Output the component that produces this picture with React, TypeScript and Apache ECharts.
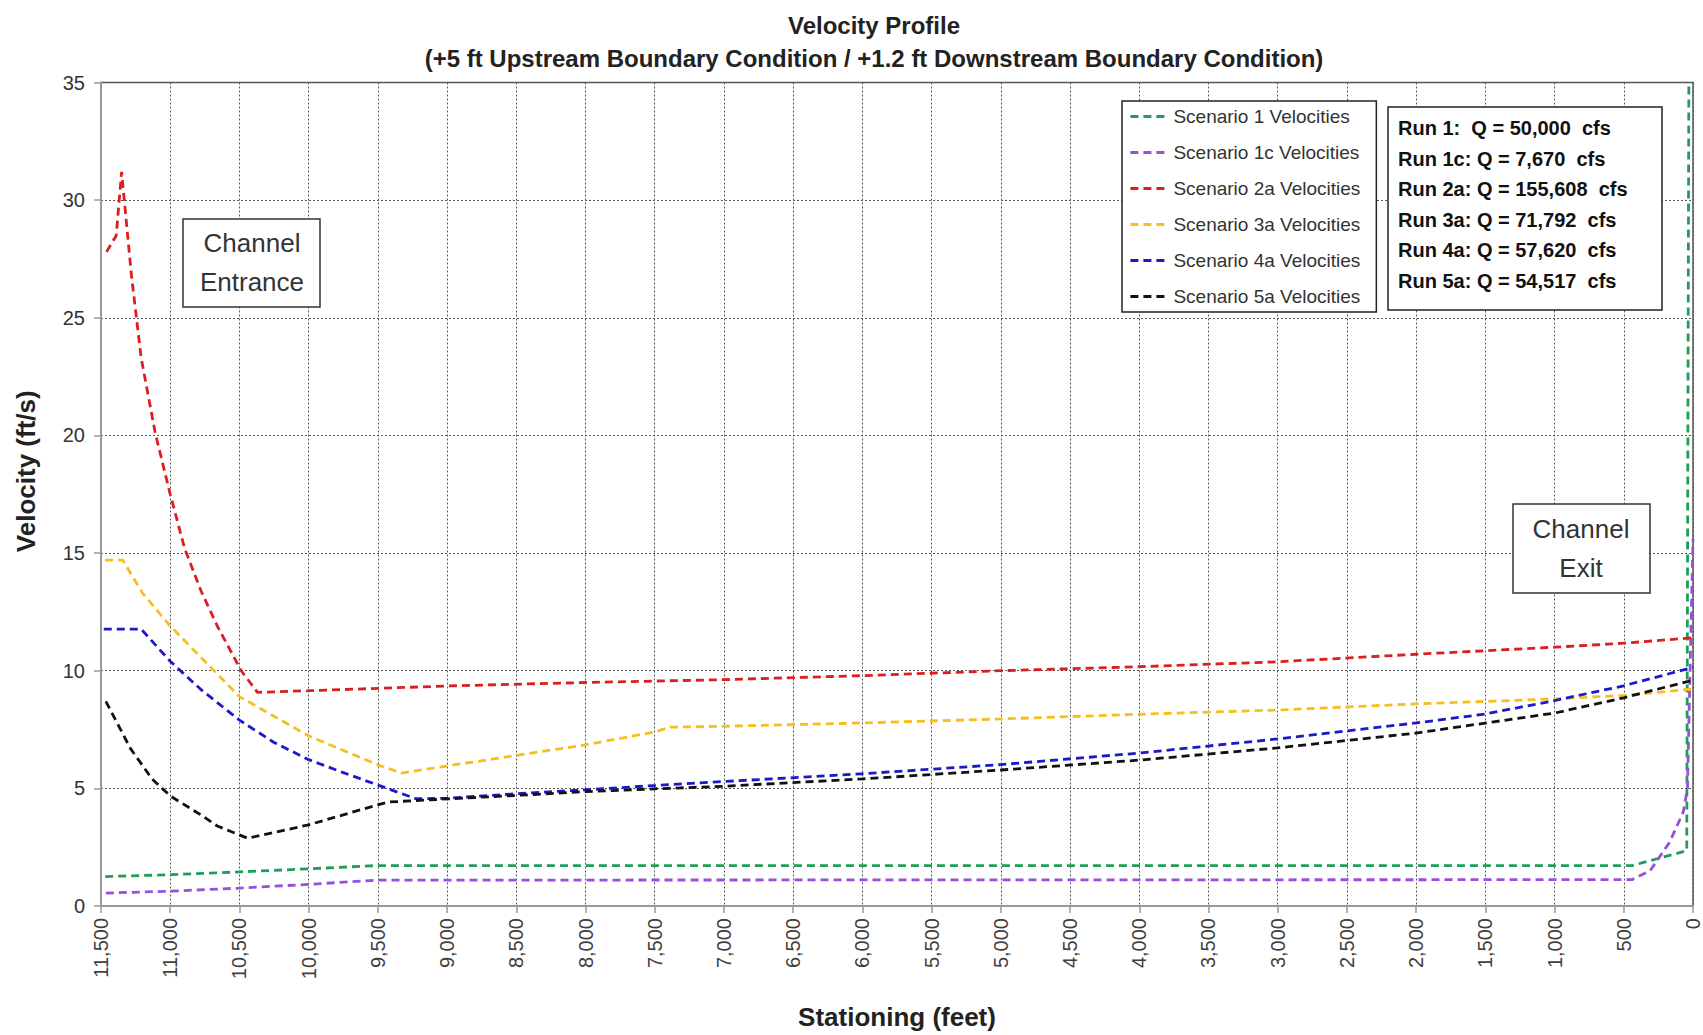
import React, { useEffect, useRef } from "react";
import * as echarts from "echarts";

const FONT = "'Liberation Sans', Arial, sans-serif";

const titleLines = [
  "Velocity Profile",
  "(+5 ft Upstream Boundary Condition / +1.2 ft Downstream Boundary Condition)",
];
const xAxisTitle = "Stationing (feet)";
const yAxisTitle = "Velocity (ft/s)";

const seriesNames = [
  "Scenario 1 Velocities",
  "Scenario 1c Velocities",
  "Scenario 2a Velocities",
  "Scenario 3a Velocities",
  "Scenario 4a Velocities",
  "Scenario 5a Velocities",
];
const seriesColors = ["#1F9E5A", "#9650DC", "#DD1E1E", "#F7BE1E", "#1A1ACB", "#111111"];

// Scenario 1
const s1Stations = [11470, 11000, 10500, 10000, 9500, 440, 45, 30];
const s1Values = [1.25, 1.33, 1.45, 1.58, 1.72, 1.72, 2.35, 35];
// Scenario 1c
const s1cStations = [11465, 11000, 10500, 10000, 9500, 440, 310, 170, 70, 40, 0];
const s1cValues = [0.55, 0.63, 0.76, 0.92, 1.1, 1.12, 1.5, 2.7, 4.0, 5.0, 15.6];
// Scenario 2a
const s2aStations = [11460, 11390, 11351, 11335, 11280, 11210, 11108, 11000, 10896, 10778, 10660, 10487, 10370, 10000, 9500, 9000, 8000, 7000, 6000, 5000, 4000, 3000, 2000, 1000, 500, 0];
const s2aValues = [27.8, 28.5, 31.2, 30.2, 26.8, 23.3, 20.1, 17.5, 15.2, 13.4, 11.9, 10.0, 9.08, 9.15, 9.25, 9.35, 9.5, 9.62, 9.79, 10.0, 10.17, 10.38, 10.7, 11.0, 11.17, 11.4];
// Scenario 3a
const s3aStations = [11470, 11343, 11200, 11000, 10500, 10000, 9500, 9330, 9000, 8500, 8000, 7500, 7390, 7000, 6000, 5000, 4000, 3000, 2000, 1000, 500, 0];
const s3aValues = [14.7, 14.7, 13.3, 11.9, 8.9, 7.23, 6.0, 5.65, 5.95, 6.4, 6.85, 7.4, 7.6, 7.64, 7.78, 7.95, 8.15, 8.33, 8.59, 8.8, 8.95, 9.22];
// Scenario 4a
const s4aStations = [11480, 11210, 11000, 10778, 10500, 10250, 10000, 9750, 9500, 9226, 9000, 8500, 8000, 7500, 7000, 6000, 5000, 4000, 3000, 2000, 1500, 1000, 500, 0];
const s4aValues = [11.77, 11.77, 10.4, 9.2, 7.9, 6.95, 6.22, 5.67, 5.14, 4.56, 4.58, 4.77, 4.94, 5.12, 5.29, 5.62, 6.01, 6.5, 7.1, 7.78, 8.16, 8.73, 9.36, 10.14];
// Scenario 5a
const s5aStations = [11465, 11288, 11131, 11000, 10778, 10660, 10440, 10000, 9500, 9420, 9000, 8500, 8000, 7500, 7000, 6000, 5000, 4000, 3000, 2000, 1000, 500, 0];
const s5aValues = [8.7, 6.7, 5.4, 4.68, 3.87, 3.4, 2.88, 3.45, 4.3, 4.42, 4.55, 4.7, 4.86, 4.98, 5.09, 5.4, 5.78, 6.2, 6.72, 7.35, 8.2, 8.85, 9.6];

const runLines = [
  "Run 1:  Q = 50,000  cfs",
  "Run 1c: Q = 7,670  cfs",
  "Run 2a: Q = 155,608  cfs",
  "Run 3a: Q = 71,792  cfs",
  "Run 4a: Q = 57,620  cfs",
  "Run 5a: Q = 54,517  cfs",
];
const entranceLines = ["Channel", "Entrance"];
const exitLines = ["Channel", "Exit"];

const allStations = [s1Stations, s1cStations, s2aStations, s3aStations, s4aStations, s5aStations];
const allValues = [s1Values, s1cValues, s2aValues, s3aValues, s4aValues, s5aValues];

function pairs(xs: number[], ys: number[]) {
  return xs.map((x, i) => [x, ys[i]]);
}

export default function App() {
  const ref = useRef<HTMLDivElement>(null);
  useEffect(() => {
    if (!ref.current) return;
    const chart = echarts.init(ref.current, undefined, { renderer: "svg" });

    const series = seriesNames.map((name, i) => ({
      name,
      type: "line",
      data: pairs(allStations[i], allValues[i]),
      symbol: "none",
      showSymbol: false,
      clip: true,
      lineStyle: { color: seriesColors[i], width: 2.8, type: [8, 5] },
      itemStyle: { color: seriesColors[i] },
      z: 3,
    }));

    const textLine = (t: string, x: number, y: number, size: number, bold: boolean, align: string) => ({
      type: "text",
      x,
      y,
      z: 101,
      style: {
        text: t,
        fontSize: size,
        fontFamily: FONT,
        fontWeight: bold ? "bold" : "normal",
        fill: bold ? "#111" : "#333",
        align,
        verticalAlign: "middle",
      },
    });

    const runY0 = 128;
    const runDy = 30.6;

    chart.setOption({
      animation: false,
      backgroundColor: "#fff",
      textStyle: { fontFamily: FONT },
      title: {
        text: titleLines.join("\n"),
        left: 869,
        textAlign: "center",
        top: 4,
        textStyle: { fontFamily: FONT, fontSize: 24, fontWeight: "bold", color: "#222", lineHeight: 33 },
      },
      grid: {
        left: 101,
        right: 10,
        top: 82.5,
        bottom: 127,
        show: true,
        borderColor: "#555",
        borderWidth: 1.5,
        backgroundColor: "#fff",
      },
      legend: {
        orient: "vertical",
        left: 1122,
        top: 101,
        padding: [6, 16, 6, 7],
        itemGap: 17,
        itemWidth: 38,
        itemHeight: 14,
        backgroundColor: "#fff",
        borderColor: "#222",
        borderWidth: 1.5,
        borderRadius: 0,
        itemStyle: { opacity: 0 },
        lineStyle: { width: 2.8, type: [8, 5] },
        textStyle: { fontFamily: FONT, fontSize: 19, color: "#333" },
        data: seriesNames,
        z: 100,
      },
      xAxis: {
        type: "value",
        inverse: true,
        min: 0,
        max: 11500,
        interval: 500,
        name: xAxisTitle,
        nameLocation: "middle",
        nameGap: 98,
        nameTextStyle: { fontFamily: FONT, fontSize: 26, fontWeight: "bold", color: "#222" },
        axisLine: { show: true, onZero: false, lineStyle: { color: "#999", width: 2 } },
        axisTick: { show: true, length: 7, lineStyle: { color: "#999", width: 1.5 } },
        axisLabel: {
          rotate: 90,
          margin: 12,
          fontSize: 20,
          color: "#404040",
          fontFamily: FONT,
          formatter: (v: number) => v.toLocaleString("en-US"),
        },
        splitLine: { show: true, lineStyle: { color: "#555", width: 1, type: [2, 2] } },
      },
      yAxis: {
        type: "value",
        min: 0,
        max: 35,
        interval: 5,
        name: yAxisTitle,
        nameLocation: "middle",
        nameGap: 62,
        nameTextStyle: { fontFamily: FONT, fontSize: 26, fontWeight: "bold", color: "#222", padding: [0, 0, 0, 46] },
        axisLine: { show: true, onZero: false, lineStyle: { color: "#999", width: 2 } },
        axisTick: { show: true, length: 7, lineStyle: { color: "#999", width: 1.5 } },
        axisLabel: { margin: 16, fontSize: 20, color: "#333", fontFamily: FONT },
        splitLine: { show: true, lineStyle: { color: "#555", width: 1, type: [2, 2] } },
      },
      series,
      graphic: [
        {
          type: "rect",
          z: 100,
          shape: { x: 183, y: 219, width: 137, height: 88 },
          style: { fill: "#fff", stroke: "#333", lineWidth: 1.5 },
        },
        textLine(entranceLines[0], 252, 243, 26, false, "center"),
        textLine(entranceLines[1], 252, 282, 26, false, "center"),
        {
          type: "rect",
          z: 100,
          shape: { x: 1513, y: 504, width: 137, height: 89 },
          style: { fill: "#fff", stroke: "#333", lineWidth: 1.5 },
        },
        textLine(exitLines[0], 1581, 529, 26, false, "center"),
        textLine(exitLines[1], 1581, 568, 26, false, "center"),
        {
          type: "rect",
          z: 100,
          shape: { x: 1388, y: 107, width: 274, height: 203 },
          style: { fill: "#fff", stroke: "#222", lineWidth: 1.5 },
        },
        ...runLines.map((t, i) => textLine(t, 1398, runY0 + i * runDy, 20, true, "left")),
      ],
    });
    return () => chart.dispose();
  }, []);
  return (
    <div
      ref={ref}
      style={{ position: "absolute", left: 0, top: 0, width: 1703, height: 1035 }}
    />
  );
}
